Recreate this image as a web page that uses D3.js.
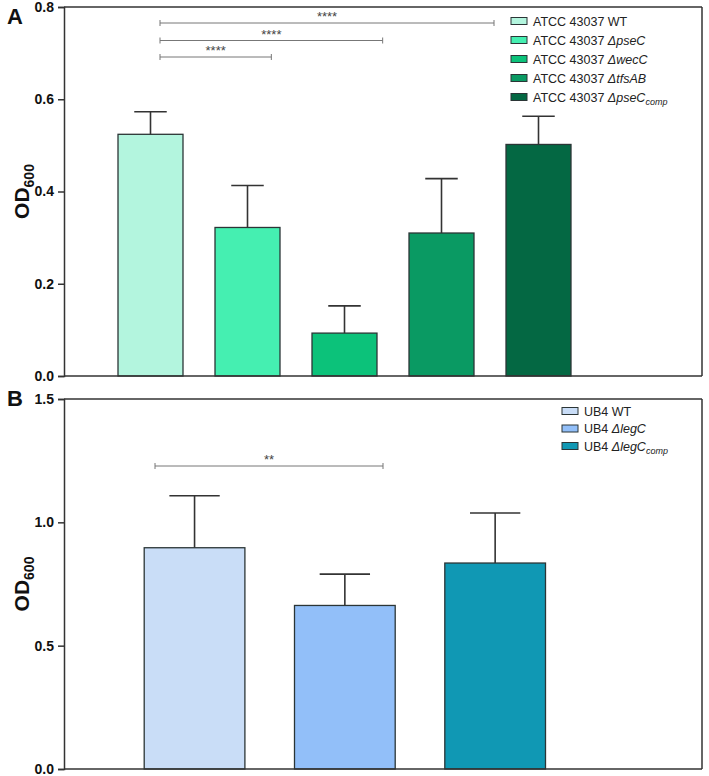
<!DOCTYPE html>
<html><head><meta charset="utf-8">
<script src="https://cdn.jsdelivr.net/npm/d3@7"></script>
<style>body{margin:0;background:#fff}svg{display:block}text{font-family:"Liberation Sans",Arial,sans-serif}</style>
</head><body><svg id="c" width="709" height="776"></svg>
<script>
// ---- Panel A data ----
const strainA = "ATCC 43037";
const mutA = ["WT", "ΔpseC", "ΔwecC", "ΔtfsAB", "ΔpseC"];
const subA = ["", "", "", "", "comp"];
const valuesA = [0.524, 0.322, 0.093, 0.310, 0.502];
const errA = [0.049, 0.091, 0.059, 0.118, 0.061];
const colorsA = ["#b3f5de", "#45efb1", "#0cc27a", "#0a9a63", "#046843"];
const ticksA = [0, 0.2, 0.4, 0.6, 0.8];
const sigA = [[0, 3, "****"], [0, 2, "****"], [0, 1, "****"]];
// ---- Panel B data ----
const strainB = "UB4";
const mutB = ["WT", "ΔlegC", "ΔlegC"];
const subB = ["", "", "comp"];
const valuesB = [0.897, 0.663, 0.835];
const errB = [0.211, 0.127, 0.203];
const colorsB = ["#c9ddf7", "#92bff9", "#1098b4"];
const ticksB = [0, 0.5, 1.0, 1.5];
const sigB = [[0, 1, "**"]];

const svg = d3.select("#c");

function panel(cfg) {
  const g = svg.append("g");
  const cats = cfg.mut.map((m, i) => i);
  const x = d3.scaleBand().domain(cats).range(cfg.xr).paddingInner(0.33).paddingOuter(0.165);
  const y = d3.scaleLinear().domain([0, cfg.ymax]).range([cfg.y0, cfg.y1]);
  const L = 64, R = 702;
  // bars
  g.selectAll("rect.bar").data(cfg.vals).join("rect")
    .attr("x", (d, i) => x(i)).attr("width", x.bandwidth())
    .attr("y", d => y(d)).attr("height", d => y(0) - y(d))
    .attr("fill", (d, i) => cfg.colors[i]).attr("stroke", "#2b3536").attr("stroke-width", 1.3);
  // error bars
  const eb = g.selectAll("g.eb").data(cfg.vals).join("g");
  eb.append("line").attr("x1", (d, i) => x(i) + x.bandwidth() / 2).attr("x2", (d, i) => x(i) + x.bandwidth() / 2)
    .attr("y1", d => y(d)).attr("y2", (d, i) => y(d + cfg.err[i])).attr("stroke", "#333").attr("stroke-width", 1.6);
  eb.append("line").attr("x1", (d, i) => x(i) + x.bandwidth() / 4).attr("x2", (d, i) => x(i) + x.bandwidth() * 3 / 4)
    .attr("y1", (d, i) => y(d + cfg.err[i])).attr("y2", (d, i) => y(d + cfg.err[i])).attr("stroke", "#333").attr("stroke-width", 1.6);
  // frame
  g.append("line").attr("x1", L).attr("x2", R).attr("y1", y(cfg.ymax)).attr("y2", y(cfg.ymax)).attr("stroke", "#333").attr("stroke-width", 1.5);
  g.append("line").attr("x1", R).attr("x2", R).attr("y1", y(cfg.ymax)).attr("y2", y(0)).attr("stroke", "#333").attr("stroke-width", 1.5);
  g.append("line").attr("x1", L).attr("x2", R).attr("y1", y(0)).attr("y2", y(0)).attr("stroke", "#333").attr("stroke-width", 1.5);
  // axis
  const ax = g.append("g").attr("transform", `translate(${L},0)`)
    .call(d3.axisLeft(y).tickValues(cfg.ticks).tickFormat(d3.format(".1f")).tickSize(6).tickPadding(4));
  ax.select(".domain").attr("stroke", "#333").attr("stroke-width", 1.5);
  ax.selectAll(".tick line").attr("stroke", "#333").attr("stroke-width", 1.5);
  ax.selectAll(".tick text").attr("font-size", 14).attr("font-weight", "bold").attr("fill", "#111")
    .attr("font-family", "'Liberation Sans',Arial,sans-serif");
  // y label
  const yl = g.append("text").attr("transform", `translate(29,${(y(0) + y(cfg.ymax)) / 2}) rotate(-90)`)
    .attr("text-anchor", "middle").attr("font-size", 21).attr("font-weight", "bold").attr("fill", "#111");
  yl.append("tspan").text("OD");
  yl.append("tspan").attr("font-size", 14).attr("dy", 5).text("600");
  // panel letter
  g.append("text").attr("x", cfg.letterX).attr("y", cfg.letterY).attr("font-size", 22).attr("font-weight", "bold")
    .attr("fill", "#111").text(cfg.letter);
  // significance
  const ann = d3.scaleLinear().domain(cfg.annDom).range(cfg.annRange);
  cfg.sig.forEach((s, k) => {
    const yy = cfg.sigY[k], x1 = ann(s[0]), x2 = ann(s[1]);
    g.append("line").attr("x1", x1).attr("x2", x2).attr("y1", yy).attr("y2", yy).attr("stroke", "#777").attr("stroke-width", 1);
    [x1, x2].forEach(xx => g.append("line").attr("x1", xx).attr("x2", xx).attr("y1", yy - 3).attr("y2", yy + 3).attr("stroke", "#777").attr("stroke-width", 1));
    g.append("text").attr("x", (x1 + x2) / 2).attr("y", yy - 2).attr("text-anchor", "middle").attr("font-size", 13)
      .attr("fill", "#444").text(s[2]);
  });
  // legend
  cfg.mut.forEach((m, i) => {
    const ly = cfg.legY + i * cfg.legStep;
    g.append("rect").attr("x", cfg.legX).attr("y", ly - 3.5).attr("width", 16).attr("height", 7)
      .attr("fill", cfg.colors[i]).attr("stroke", "#2b3536").attr("stroke-width", 1);
    const t = g.append("text").attr("x", cfg.legX + 22).attr("y", ly + 4.5).attr("font-size", 12.5).attr("fill", "#222");
    t.append("tspan").text(cfg.strain + " ");
    t.append("tspan").attr("font-style", m === "WT" ? "normal" : "italic").text(m);
    if (cfg.sub[i]) t.append("tspan").attr("font-style", "italic").attr("font-size", 9).attr("dy", 3).text(cfg.sub[i]);
  });
}

panel({letter: "A", letterX: 7, letterY: 24, mut: mutA, sub: subA, strain: strainA, vals: valuesA, err: errA, colors: colorsA,
  ticks: ticksA, ymax: 0.8, y0: 376, y1: 7, xr: [102, 587],
  sig: sigA, sigY: [23, 40.5, 57], annDom: [0, 3], annRange: [160, 494],
  legX: 511, legY: 21, legStep: 19});

panel({letter: "B", letterX: 7, letterY: 406, mut: mutB, sub: subB, strain: strainB, vals: valuesB, err: errB, colors: colorsB,
  ticks: ticksB, ymax: 1.5, y0: 769, y1: 399, xr: [119.4, 570.3],
  sig: sigB, sigY: [466], annDom: [0, 1], annRange: [155, 383],
  legX: 562, legY: 411, legStep: 17.5});
</script></body></html>
